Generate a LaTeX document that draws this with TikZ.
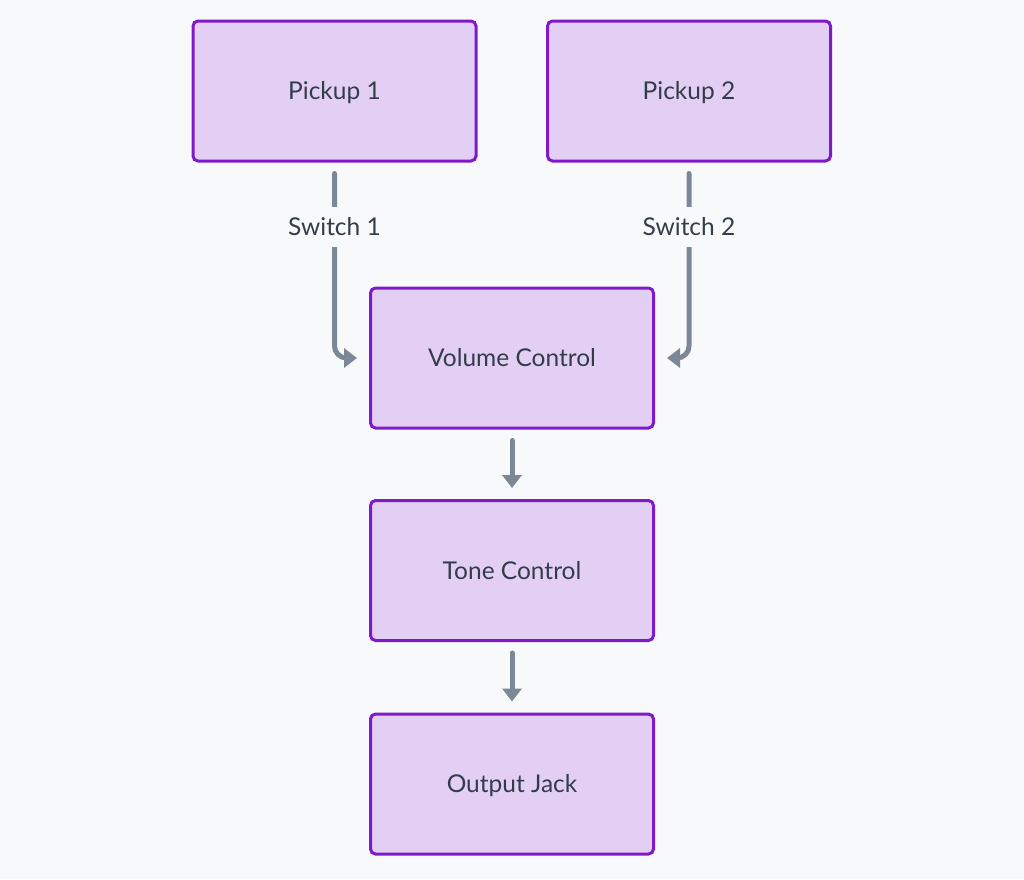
\documentclass[tikz,border=0pt]{standalone}
\usepackage{fontspec}
\setmainfont{Lato}
\usetikzlibrary{arrows.meta}
\definecolor{bgc}{HTML}{F8F9FB}
\definecolor{boxfill}{HTML}{E3CFF4}
\definecolor{boxdraw}{HTML}{8019C9}
\definecolor{txt}{HTML}{333D4A}
\definecolor{edgec}{HTML}{7C8896}
\tikzset{
  box/.style={draw=boxdraw, fill=boxfill, line width=3pt, rounded corners=5pt,
    minimum width=283pt, minimum height=140pt, inner sep=0pt,
    text height=17.6pt, text depth=0pt,
    font=\fontsize{24.5}{29}\selectfont, text=txt},
  edge/.style={draw=edgec, line width=5pt, line cap=round, rounded corners=12pt,
    -{Triangle[length=13pt,width=19pt]}},
  elabel/.style={fill=bgc, inner xsep=4pt, inner ysep=11pt,
    text height=17.6pt, text depth=0pt,
    font=\fontsize{24.5}{29}\selectfont, text=txt}
}
\begin{document}
\begin{tikzpicture}[x=1pt,y=-1pt]
\fill[bgc] (0,0) rectangle (1024,879);
\useasboundingbox (0,0) rectangle (1024,879);
\node[box] (p1) at (334.5,91) {Pickup 1};
\node[box] (p2) at (689,91) {Pickup 2};
\node[box] (vol) at (512,358) {Volume Control};
\node[box] (tone) at (512,570.5) {Tone Control};
\node[box] (out) at (512,784) {Output Jack};
\coordinate (s1) at ([yshift=-11pt]p1.south);
\coordinate (s2) at ([yshift=-11pt]p2.south);
\coordinate (v1) at ([xshift=-12pt]vol.west);
\coordinate (v2) at ([xshift=12pt]vol.east);
\draw[edge] (s1) |- (v1);
\draw[edge] (s2) |- (v2);
\node[elabel] (l1) at (334.5,227) {Switch 1};
\node[elabel] (l2) at (689,227) {Switch 2};
\draw[edge] ([yshift=-11pt]vol.south) -- ([yshift=11pt]tone.north);
\draw[edge] ([yshift=-11pt]tone.south) -- ([yshift=11pt]out.north);
\end{tikzpicture}
\end{document}
